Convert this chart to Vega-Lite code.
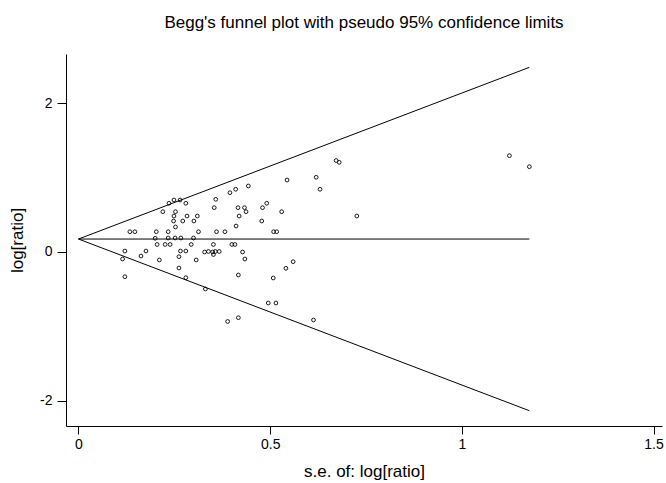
{
  "$schema": "https://vega.github.io/schema/vega-lite/v6.json",
  "width": 596,
  "height": 372,
  "autosize": {"type": "none"},
  "padding": {"left": 66, "top": 54, "right": 4, "bottom": 57},
  "background": "white",
  "title": {"text": "Begg's funnel plot with pseudo 95% confidence limits", "font": "Liberation Sans", "fontSize": 17, "fontWeight": "normal", "color": "black", "anchor": "middle", "offset": 22},
  "config": {
    "view": {"stroke": null},
    "axis": {"grid": false, "domainColor": "black", "domainWidth": 1, "tickColor": "black", "tickWidth": 1, "tickSize": 8, "labelColor": "black", "labelFont": "Liberation Sans", "labelFontSize": 14, "titleFont": "Liberation Sans", "titleFontSize": 17, "titleFontWeight": "normal", "titleColor": "black"}
  },
  "datasets": {
    "limits": [
      {"se": 0, "lim": 0.174, "k": "upper"}, {"se": 1.176, "lim": 2.479, "k": "upper"},
      {"se": 0, "lim": 0.174, "k": "center"}, {"se": 1.176, "lim": 0.174, "k": "center"},
      {"se": 0, "lim": 0.174, "k": "lower"}, {"se": 1.176, "lim": -2.131, "k": "lower"}
    ],
    "studies": [
      {"se": 0.443, "lr": 0.886}, {"se": 0.410, "lr": 0.842}, {"se": 0.395, "lr": 0.796}, {"se": 0.358, "lr": 0.707},
      {"se": 0.249, "lr": 0.698}, {"se": 0.265, "lr": 0.698}, {"se": 0.236, "lr": 0.654}, {"se": 0.280, "lr": 0.654},
      {"se": 0.220, "lr": 0.541}, {"se": 0.253, "lr": 0.541}, {"se": 0.354, "lr": 0.595}, {"se": 0.416, "lr": 0.595},
      {"se": 0.433, "lr": 0.595}, {"se": 0.437, "lr": 0.541}, {"se": 0.480, "lr": 0.595}, {"se": 0.491, "lr": 0.654},
      {"se": 0.530, "lr": 0.541}, {"se": 0.249, "lr": 0.483}, {"se": 0.283, "lr": 0.483}, {"se": 0.310, "lr": 0.483},
      {"se": 0.419, "lr": 0.483}, {"se": 0.248, "lr": 0.416}, {"se": 0.272, "lr": 0.416}, {"se": 0.301, "lr": 0.416},
      {"se": 0.478, "lr": 0.416}, {"se": 0.253, "lr": 0.336}, {"se": 0.411, "lr": 0.349}, {"se": 0.134, "lr": 0.272},
      {"se": 0.147, "lr": 0.272}, {"se": 0.203, "lr": 0.272}, {"se": 0.234, "lr": 0.272}, {"se": 0.313, "lr": 0.272},
      {"se": 0.360, "lr": 0.272}, {"se": 0.382, "lr": 0.272}, {"se": 0.509, "lr": 0.272}, {"se": 0.517, "lr": 0.272},
      {"se": 0.200, "lr": 0.184}, {"se": 0.234, "lr": 0.188}, {"se": 0.252, "lr": 0.188}, {"se": 0.267, "lr": 0.188},
      {"se": 0.300, "lr": 0.188}, {"se": 0.205, "lr": 0.101}, {"se": 0.226, "lr": 0.101}, {"se": 0.239, "lr": 0.101},
      {"se": 0.294, "lr": 0.101}, {"se": 0.352, "lr": 0.101}, {"se": 0.400, "lr": 0.101}, {"se": 0.408, "lr": 0.101},
      {"se": 0.121, "lr": 0.013}, {"se": 0.176, "lr": 0.013}, {"se": 0.266, "lr": 0.013}, {"se": 0.280, "lr": 0.013},
      {"se": 0.329, "lr": 0.0}, {"se": 0.339, "lr": 0.007}, {"se": 0.350, "lr": 0.0}, {"se": 0.357, "lr": 0.007},
      {"se": 0.367, "lr": 0.007}, {"se": 0.352, "lr": -0.034}, {"se": 0.428, "lr": 0.0}, {"se": 0.115, "lr": -0.094},
      {"se": 0.163, "lr": -0.054}, {"se": 0.211, "lr": -0.107}, {"se": 0.262, "lr": -0.063}, {"se": 0.307, "lr": -0.107},
      {"se": 0.434, "lr": -0.094}, {"se": 0.262, "lr": -0.215}, {"se": 0.121, "lr": -0.332}, {"se": 0.280, "lr": -0.345},
      {"se": 0.417, "lr": -0.309}, {"se": 0.508, "lr": -0.349}, {"se": 0.560, "lr": -0.130}, {"se": 0.541, "lr": -0.219},
      {"se": 0.331, "lr": -0.497}, {"se": 0.495, "lr": -0.685}, {"se": 0.515, "lr": -0.685}, {"se": 0.417, "lr": -0.882},
      {"se": 0.389, "lr": -0.933}, {"se": 0.613, "lr": -0.913}, {"se": 0.672, "lr": 1.228}, {"se": 0.680, "lr": 1.204},
      {"se": 0.620, "lr": 1.003}, {"se": 0.544, "lr": 0.966}, {"se": 0.630, "lr": 0.842}, {"se": 0.726, "lr": 0.483},
      {"se": 1.124, "lr": 1.293}, {"se": 1.176, "lr": 1.145}
    ]
  },
  "layer": [
    {
      "data": {"name": "limits"},
      "mark": {"type": "line", "color": "black", "strokeWidth": 1},
      "encoding": {
        "x": {"field": "se", "type": "quantitative", "scale": {"domain": [-0.0326, 1.522], "nice": false, "zero": false},
              "axis": {"values": [0, 0.5, 1, 1.5], "format": "~g", "labelPadding": 3, "title": "s.e. of: log[ratio]", "titleY": 50, "titleBaseline": "alphabetic"}},
        "y": {"field": "lim", "type": "quantitative", "scale": {"domain": [-2.336, 2.658], "nice": false, "zero": false},
              "axis": {"values": [-2, 0, 2], "labelExpr": "'' + datum.value", "tickSize": 9, "labelPadding": 5, "title": "log[ratio]", "titleX": -49, "titleY": 186, "titleAngle": -90, "titleAlign": "center", "titleBaseline": "middle"}},
        "detail": {"field": "k"}
      }
    },
    {
      "data": {"name": "studies"},
      "mark": {"type": "point", "shape": "circle", "filled": false, "color": "black", "size": 14, "strokeWidth": 0.9, "opacity": 1},
      "encoding": {
        "x": {"field": "se", "type": "quantitative"},
        "y": {"field": "lr", "type": "quantitative"}
      }
    }
  ]
}
